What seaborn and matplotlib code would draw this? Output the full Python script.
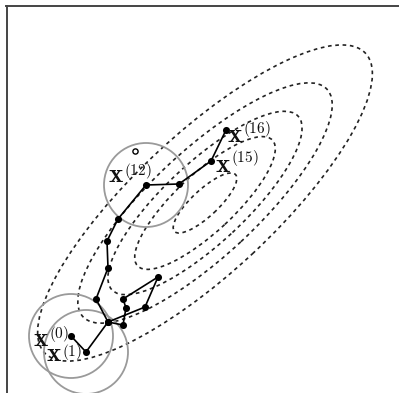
import numpy as np
import pandas as pd
import matplotlib
matplotlib.use("Agg")
import matplotlib.pyplot as plt
from matplotlib.patches import Ellipse, Circle
import seaborn as sns

# ---- data (units: chart coordinates, y up) ----
path_x = [71, 86, 108, 145, 158, 123, 126, 123, 108, 96, 108, 107, 118, 146, 179, 211, 226]
path_y = [57, 41, 71, 86, 116, 94, 85, 68, 71, 94, 125, 152, 174, 208, 209, 232, 263]
rejected_x = [135]
rejected_y = [242]

label_idx = [0, 1, 13, 15, 16]
label_sup = ["(0)", "(1)", "(12)", "(15)", "(16)"]

circle_idx = [0, 1, 13]
circle_radius = 42

contour_center = (205, 190)
contour_major = 439
contour_minor = 139
contour_angle = 43
contour_scales = [1.0, 0.76, 0.58, 0.42, 0.19]

# ---- figure ----
sns.set_style("white")
plt.rcParams["mathtext.fontset"] = "cm"
W, H = 399, 393
fig = plt.figure(figsize=(W / 100, H / 100), dpi=100)
left_px, top_px = 6.5, 6.5
ax = fig.add_axes([left_px / W, -0.1, 1.0, (H - top_px) / H + 0.1])
ax.set_xlim(left_px, left_px + W)
ax.set_ylim(-0.1 * H, H - top_px)
ax.set_xticks([])
ax.set_yticks([])
for s in ["left", "top"]:
    ax.spines[s].set_color("#444444")
    ax.spines[s].set_linewidth(1.4)
for s in ["right", "bottom"]:
    ax.spines[s].set_visible(False)

# contours
for sc in contour_scales:
    ax.add_patch(Ellipse(contour_center, contour_major * sc, contour_minor * sc,
                         angle=contour_angle, fill=False, edgecolor="#222222",
                         linewidth=1.2, linestyle=(0, (2.2, 2.2)), zorder=1))

# proposal circles
for i in circle_idx:
    ax.add_patch(Circle((path_x[i], path_y[i]), circle_radius, fill=False,
                        edgecolor="#9a9a9a", linewidth=1.3, zorder=2))

df = pd.DataFrame({"x": path_x, "y": path_y, "step": range(len(path_x))})
sns.lineplot(data=df, x="x", y="y", sort=False, estimator=None, color="black",
             linewidth=1.2, ax=ax, zorder=3)
sns.scatterplot(data=df, x="x", y="y", color="black", s=26, edgecolor="black",
                linewidth=0, ax=ax, zorder=4)
sns.scatterplot(x=rejected_x, y=rejected_y, color="white", s=14, edgecolor="black",
                linewidth=1.0, ax=ax, zorder=4)

# label placement (pixel offsets): (x-glyph dx, dy, superscript dx, dy)
offsets = [(-38, -10, -22, -2), (-40, -9, -24, -4), (-38, 3, -22, 10),
           (4, -11, 20, -1), (1, -12, 17, -3)]
for i, sup, (xdx, xdy, sdx, sdy) in zip(label_idx, label_sup, offsets):
    ax.annotate(r"$\mathbf{x}$", xy=(path_x[i], path_y[i]), xytext=(xdx, xdy),
                textcoords="offset pixels", ha="left", va="baseline",
                fontsize=19.5, color="#111111", zorder=5)
    ax.annotate("$" + sup + "$", xy=(path_x[i], path_y[i]), xytext=(sdx, sdy),
                textcoords="offset pixels", ha="left", va="baseline",
                fontsize=11, color="#111111", zorder=5)

ax.set_xlabel("")
ax.set_ylabel("")
fig.savefig("out.png", dpi=100)
